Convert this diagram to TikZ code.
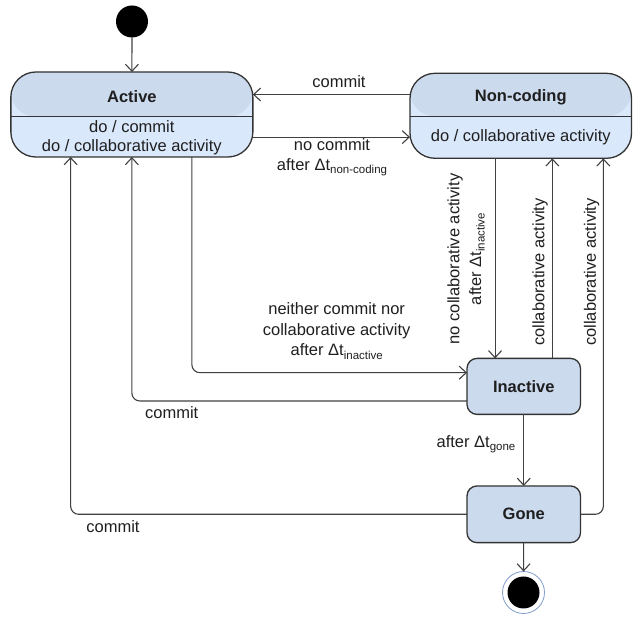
\documentclass[tikz,border=0pt]{standalone}
\usepackage{fontspec}
\setmainfont{Liberation Sans}
\usetikzlibrary{arrows.meta,calc}
\definecolor{headc}{HTML}{CCDAEE}
\definecolor{bodyc}{HTML}{DAE8FC}
\definecolor{linec}{HTML}{404040}
\definecolor{bordc}{HTML}{333333}
\definecolor{ringc}{HTML}{7F9CC8}
\newcommand\lowsub[1]{\raisebox{-0.4ex}{\fontsize{11.5}{12}\selectfont #1}}
\begin{document}
\begin{tikzpicture}[x=1pt,y=-1pt,
  every node/.style={font=\fontsize{16.5}{20.5}\selectfont, inner sep=0pt, outer sep=0pt},
  conn/.style={draw=linec, line width=1.1pt, rounded corners=8pt},
  arr/.style={conn, -{Straight Barb[length=7pt,width=13pt,line width=1.1pt]}},
  lbl/.style={text=black!88, align=center},
  namefont/.style={font=\fontsize{16.5}{20}\selectfont\bfseries, text=black!88},
  headfill/.style={path picture={\fill[headc] (path picture bounding box.north west) rectangle ([yshift=#1]path picture bounding box.east);}},
  bigstate/.style={draw=bordc, line width=1.3pt, rounded corners=25pt, fill=bodyc, minimum height=85pt},
  smallstate/.style={draw=bordc, line width=1.3pt, rounded corners=10pt, fill=headc, minimum width=113.5pt, minimum height=56pt, namefont}
]
\useasboundingbox (0,0) rectangle (633,617);

% states
\node[circle, fill=black, minimum size=32pt] (init) at (132,21.5) {};
\node[bigstate, minimum width=242pt, headfill=-2.2pt] (active) at (131.85,114.5) {};
\draw[bordc, line width=1.3pt] ([yshift=-2.2pt]active.west) -- ([yshift=-2.2pt]active.east);
\node[namefont] (activeName) at (131.85,96.5) {Active};
\node[lbl, align=center, font=\fontsize{16.5}{19}\selectfont] (activeDo) at (131.85,138) {do / commit\\do / collaborative activity};

\node[bigstate, minimum width=221.5pt, headfill=-0.5pt] (noncoding) at (520.75,115.8) {};
\draw[bordc, line width=1.3pt] ([yshift=-0.5pt]noncoding.west) -- ([yshift=-0.5pt]noncoding.east);
\node[namefont] (ncName) at (520.75,97) {Non-coding};
\node[lbl] (ncDo) at (520.75,137.5) {do / collaborative activity};

\node[smallstate] (inactive) at (523.75,386.4) {Inactive};
\node[smallstate, minimum height=56.7pt] (gone) at (523.75,514.3) {Gone};

\node[circle, draw=ringc, line width=0.8pt, fill=white, minimum size=42pt] (final) at (523.5,592.5) {};
\node[circle, fill=black, minimum size=32pt] (finalIn) at (523.5,592.5) {};

% helper coordinates
\coordinate (xa) at ([xshift=60pt]active.south);
\coordinate (xg) at ([xshift=-61.2pt]active.south);
\coordinate (xd) at ([xshift=-28.7pt]inactive.north);
\coordinate (xu) at ([xshift=28.6pt]inactive.north);
\coordinate (xr) at ([xshift=79.6pt]inactive.north);

% connectors
\draw[arr] (init) -- (active);
\draw[arr] ([yshift=21.3pt]noncoding.west) -- ([yshift=21.3pt]noncoding.west -| active.east);
\draw[arr] ([yshift=-22.6pt]active.east) -- ([yshift=-22.6pt]active.east -| noncoding.west);
\draw[arr] (xa) |- ([yshift=13.7pt]inactive.west);
\draw[arr] ([yshift=-14.6pt]inactive.west) -| (active.south);
\draw[arr] (gone.west) -| (xg);
\draw[arr] (xd |- noncoding.south) -- (xd);
\draw[arr] (xu) -- (xu |- noncoding.south);
\draw[arr] (gone.east) -| (xr |- noncoding.south);
\draw[arr] (inactive) -- (gone);
\draw[arr] (gone) -- (final);

% labels
\node[lbl] (l1) at (339,82) {commit};
\node[lbl, font=\fontsize{16.5}{20}\selectfont] (l2) at (332,157) {no commit\\after Δt\lowsub{non-coding}};
\node[lbl] (l3) at (336.7,331) {neither commit nor\\collaborative activity\\after Δt\lowsub{inactive}};
\node[lbl] (l4) at (171.7,413) {commit};
\node[lbl] (l5) at (113,527) {commit};
\node[lbl] (l6) at (476,444) {after Δt\lowsub{gone}};
\node[lbl, rotate=90, font=\fontsize{16.5}{21.7}\selectfont] (l7) at (466,259) {no collaborative activity\\after Δt\lowsub{inactive}};
\node[lbl, rotate=90] (l8) at (540,272) {collaborative activity};
\node[lbl, rotate=90] (l9) at (591.5,272) {collaborative activity};
\end{tikzpicture}
\end{document}
